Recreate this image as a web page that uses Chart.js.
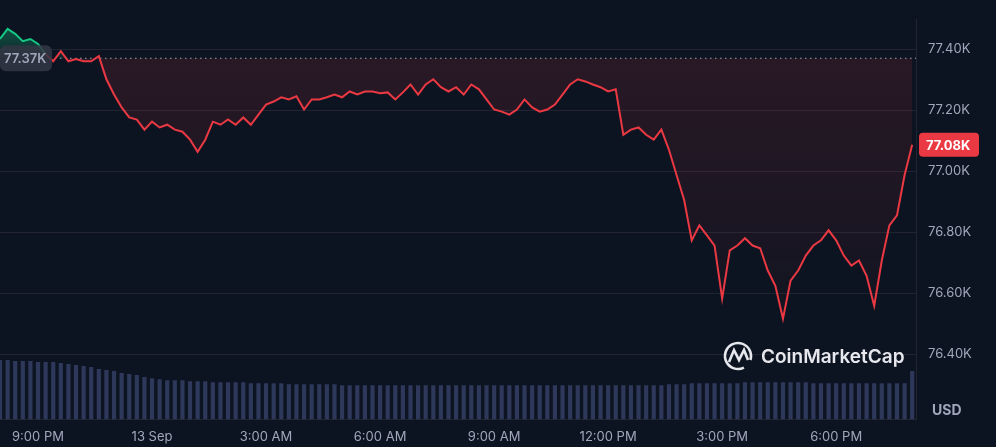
<!DOCTYPE html>
<html><head><meta charset="utf-8">
<script src="https://cdn.jsdelivr.net/npm/chart.js@4"></script>
<style>
html,body{margin:0;padding:0;background:#0d1421;}
#wrap{width:996px;height:447px;position:relative;}
</style></head>
<body><div id="wrap"><canvas id="c"></canvas></div>
<script>
// price in K USD, one point every 12 minutes from 8:00 PM
const prices = [77.433,77.466,77.450,77.426,77.433,77.417,77.383,77.360,77.393,77.360,77.367,77.360,77.360,77.377,77.301,77.251,
77.209,77.176,77.169,77.136,77.162,77.143,77.152,77.136,77.129,77.103,77.063,77.103,77.162,77.152,77.169,77.152,77.176,77.152,
77.185,77.218,77.228,77.242,77.235,77.245,77.202,77.235,77.235,77.242,77.251,77.242,77.261,77.251,77.261,77.261,77.255,77.258,
77.235,77.258,77.284,77.251,77.284,77.301,77.275,77.261,77.275,77.251,77.284,77.268,77.235,77.202,77.195,77.185,77.202,77.235,
77.209,77.195,77.202,77.218,77.251,77.284,77.301,77.294,77.284,77.275,77.261,77.268,77.119,77.136,77.143,77.119,77.103,77.136,
77.070,76.987,76.905,76.773,76.822,76.789,76.756,76.582,76.740,76.756,76.780,76.756,76.747,76.674,76.624,76.516,76.641,76.674,
76.723,76.756,76.773,76.806,76.773,76.723,76.690,76.707,76.657,76.558,76.707,76.822,76.855,76.987,77.086];
// volume (arbitrary units)
const volumes = [5.9,5.9,5.8,5.8,5.8,5.7,5.7,5.7,5.6,5.5,5.4,5.3,5.2,5.0,4.9,4.8,4.6,4.5,4.4,4.2,4.1,4.0,3.9,3.9,3.9,3.8,3.8,3.8,
3.7,3.7,3.7,3.7,3.7,3.6,3.6,3.6,3.6,3.6,3.5,3.5,3.5,3.5,3.5,3.5,3.5,3.4,3.4,3.4,3.4,3.4,3.4,3.4,3.4,3.4,3.4,3.4,3.4,3.4,3.4,3.4,
3.4,3.4,3.4,3.4,3.4,3.4,3.4,3.4,3.4,3.4,3.4,3.4,3.4,3.4,3.4,3.4,3.4,3.4,3.4,3.4,3.4,3.4,3.4,3.4,3.4,3.4,3.4,3.4,3.5,3.5,3.5,3.6,
3.6,3.6,3.6,3.6,3.6,3.6,3.7,3.7,3.7,3.7,3.7,3.7,3.7,3.7,3.7,3.6,3.6,3.6,3.6,3.6,3.6,3.6,3.6,3.6,3.6,3.6,3.6,3.6,4.8];
const hours = prices.map((_, i) => i * 0.2);
const tickHours = [1, 4, 7, 10, 13, 16, 19, 22];
const tickLabels = ["9:00 PM", "13 Sep", "3:00 AM", "6:00 AM", "9:00 AM", "12:00 PM", "3:00 PM", "6:00 PM"];
const openPrice = 77.37;
const lastPrice = prices[prices.length - 1];

const GREEN = "#16c784", RED = "#ea3943", TXT = "#a1a7bb", GRID = "#222531";

const ctx = document.getElementById("c").getContext("2d");
const redFill = ctx.createLinearGradient(0, 60, 0, 380);
redFill.addColorStop(0, "rgba(234,57,67,0.13)");
redFill.addColorStop(1, "rgba(234,57,67,0)");
const greenFill = ctx.createLinearGradient(0, 20, 0, 62);
greenFill.addColorStop(0, "rgba(22,199,132,0.4)");
greenFill.addColorStop(1, "rgba(22,199,132,0.08)");

function roundRect(c, x, y, w, h, r) {
    c.beginPath();
    c.moveTo(x + r, y); c.arcTo(x + w, y, x + w, y + h, r); c.arcTo(x + w, y + h, x, y + h, r);
    c.arcTo(x, y + h, x, y, r); c.arcTo(x, y, x + w, y, r); c.closePath();
}

/* ---------- extras: baseline, labels, watermark ---------- */
const extras = {
    id: "extras",
    beforeDatasetsDraw(chart) {
        const c = chart.ctx, ys = chart.scales.y, a = chart.chartArea;
        const y0 = ys.getPixelForValue(openPrice);
        c.save();
        c.strokeStyle = "#a1a7bb"; c.lineWidth = 1.2; c.setLineDash([1.5, 3.5]);
        c.beginPath(); c.moveTo(60, y0); c.lineTo(a.right, y0); c.stroke();
        c.restore();
    },
    afterDraw(chart) {
        const c = chart.ctx, ys = chart.scales.y, a = chart.chartArea;
        c.save();
        // open price badge
        const y0 = ys.getPixelForValue(openPrice);
        c.fillStyle = "rgba(50,55,68,0.85)";
        roundRect(c, 0, y0 - 13, 52, 26, 6); c.fill();
        c.fillStyle = "#a1a7bb"; c.font = "600 13px 'Inter', sans-serif";
        c.textBaseline = "middle"; c.textAlign = "left";
        c.fillText(openPrice.toFixed(2) + "K", 4, y0 + 1);
        // last price badge
        const y1 = ys.getPixelForValue(lastPrice);
        c.fillStyle = RED;
        roundRect(c, a.right + 3, y1 - 12, 60, 24, 4); c.fill();
        c.fillStyle = "#fff"; c.font = "bold 13px 'Inter', sans-serif";
        c.fillText("77.08K", a.right + 10, y1 + 1);
        // USD
        c.fillStyle = TXT; c.font = "bold 14px 'Inter', sans-serif";
        c.fillText("USD", 932, 411);
        // watermark
        c.strokeStyle = "#e6e8ee"; c.lineWidth = 2.6;
        c.beginPath(); c.arc(738, 356, 13, 0.35 * Math.PI, 2.1 * Math.PI); c.stroke();
        c.beginPath(); c.moveTo(729, 362); c.lineTo(734, 350); c.lineTo(739, 360); c.lineTo(744, 350); c.lineTo(748, 360); c.stroke();
        c.fillStyle = "#e6e8ee"; c.font = "600 19px 'Inter', sans-serif";
        c.fillText("CoinMarketCap", 761, 357);
        c.restore();
    }
};

new Chart(ctx, {
    data: {
        labels: hours,
        datasets: [{
            type: "line",
            data: hours.map((h, i) => ({ x: h, y: prices[i] })),
            yAxisID: "y",
            borderWidth: 2,
            pointRadius: 0,
            tension: 0,
            borderColor: RED,
            segment: {
                borderColor: s => (s.p0.parsed.y >= openPrice && s.p1.parsed.y >= openPrice) ? GREEN : RED
            },
            fill: { target: { value: openPrice }, above: greenFill, below: redFill },
            clip: false,
            order: 1
        }, {
            type: "bar",
            data: hours.map((h, i) => ({ x: h, y: volumes[i] })),
            yAxisID: "yv",
            backgroundColor: "rgba(56,68,110,0.75)",
            barPercentage: 0.55,
            categoryPercentage: 1,
            order: 2
        }]
    },
    options: {
        responsive: true,
        maintainAspectRatio: false,
        animation: false,
        plugins: { legend: { display: false }, tooltip: { enabled: false } },
        scales: {
            x: {
                type: "linear", min: 0, max: 24.1, offset: false,
                afterBuildTicks: s => { s.ticks = tickHours.map(v => ({ value: v })); },
                ticks: {
                    color: TXT, font: { size: 13, family: "Inter" }, maxRotation: 0, padding: 2,
                    callback: v => tickLabels[tickHours.indexOf(v)]
                },
                grid: { display: false },
                border: { color: GRID }
            },
            y: {
                position: "right", min: 76.186, max: 77.496,
                afterBuildTicks: s => { s.ticks = [76.4, 76.6, 76.8, 77.0, 77.2, 77.4].map(v => ({ value: v })); },
                ticks: { color: TXT, font: { size: 13, family: "Inter" }, padding: 12, callback: v => v.toFixed(2) + "K" },
                grid: { color: GRID, drawTicks: false },
                border: { color: GRID },
                afterFit: s => { s.width = 80; }
            },
            yv: { display: false, min: 0, max: 39.7 }
        }
    },
    plugins: [extras]
});
</script></body></html>
